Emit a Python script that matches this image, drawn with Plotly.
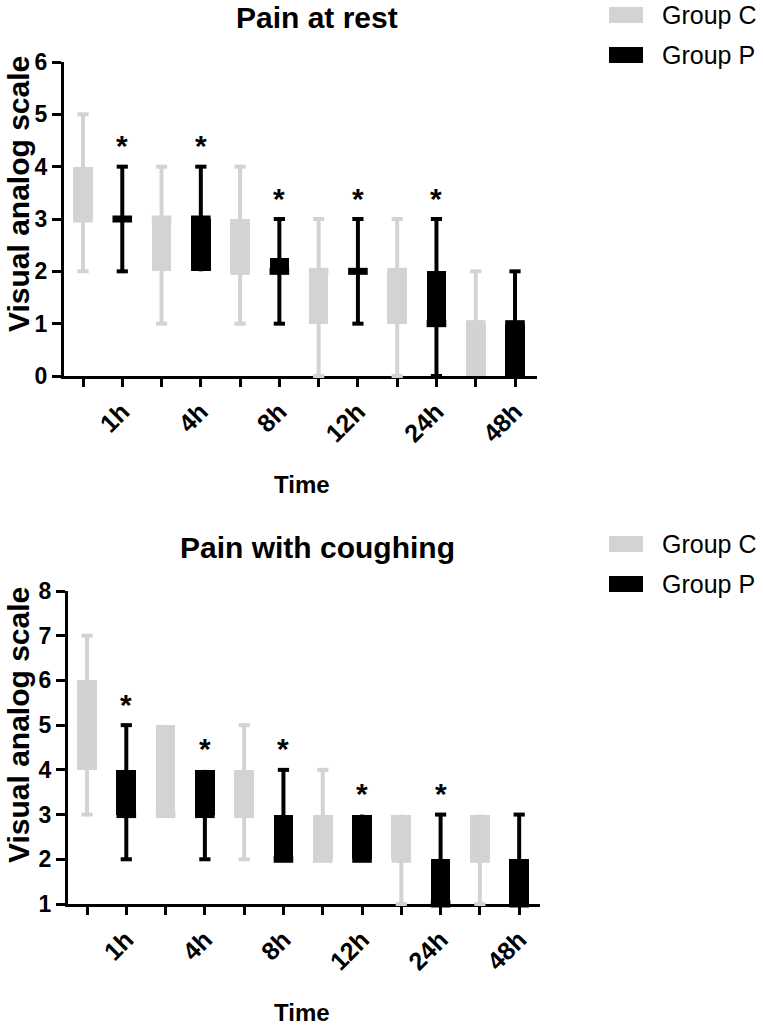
import plotly.graph_objects as go

# ---------------- data ----------------
times = ['1h', '4h', '8h', '12h', '24h', '48h']
groups = ['Group C', 'Group P']

# Pain at rest
rest_C_min = [2, 1, 1, 0, 0, 0]
rest_C_q1 = [3, 2, 2, 1, 1, 0]
rest_C_med = [3, 3, 2, 2, 2, 1]
rest_C_q3 = [4, 3, 3, 2, 2, 1]
rest_C_max = [5, 4, 4, 3, 3, 2]

rest_P_min = [2, 2, 1, 1, 0, 0]
rest_P_q1 = [3, 2, 2, 2, 1, 0]
rest_P_med = [3, 3, 2, 2, 1, 1]
rest_P_q3 = [3, 3, 2.25, 2, 2, 1]
rest_P_max = [4, 4, 3, 3, 3, 2]
rest_sig = [True, True, True, True, True, False]

# Pain with coughing
cough_C_min = [3, 3, 2, 2, 1, 1]
cough_C_q1 = [4, 3, 3, 2, 2, 2]
cough_C_med = [5, 3, 3, 2, 2, 2]
cough_C_q3 = [6, 5, 4, 3, 3, 3]
cough_C_max = [7, 5, 5, 4, 3, 3]

cough_P_min = [2, 2, 2, 2, 1, 1]
cough_P_q1 = [3, 3, 2, 2, 1, 1]
cough_P_med = [3, 3, 2, 2, 1, 1]
cough_P_q3 = [4, 4, 3, 3, 2, 2]
cough_P_max = [5, 4, 4, 3, 3, 3]
cough_sig = [True, True, True, True, True, False]

# ---------------- style ----------------
W, H = 763, 1032
GRAY = 'rgb(211,211,211)'
BLACK = 'rgb(0,0,0)'
FONT = 'Liberation Sans, Arial, sans-serif'


def px(x):
    return x / W


def py(y):
    return 1 - y / H


fig = go.Figure()

n = len(times)
posC = [2 * i for i in range(n)]
posP = [2 * i + 1 for i in range(n)]


def add_group(pos, mn, q1, med, q3, mx, color, xa, ya):
    # box (Q1 -> Q3)
    fig.add_trace(go.Bar(
        x=pos, base=q1, y=[b - a for a, b in zip(q1, q3)], width=0.5,
        marker=dict(color=color, line=dict(width=0)),
        xaxis=xa, yaxis=ya, showlegend=False, hoverinfo='skip'))
    # whisker line (min -> max), no caps
    fig.add_trace(go.Scatter(
        x=pos, y=mn, mode='markers', marker=dict(size=1, opacity=0),
        error_y=dict(type='data', symmetric=False,
                     array=[b - a for a, b in zip(mn, mx)],
                     arrayminus=[0] * len(mn), width=0, thickness=4,
                     color=color),
        xaxis=xa, yaxis=ya, showlegend=False, hoverinfo='skip',
        cliponaxis=False))
    # caps only where whisker extends beyond box
    cap_x, cap_y = [], []
    for p, a, lo, hi, b in zip(pos, mn, q1, q3, mx):
        if b > hi:
            cap_x.append(p); cap_y.append(b)
        if a < lo:
            cap_x.append(p); cap_y.append(a)
    fig.add_trace(go.Scatter(
        x=cap_x, y=cap_y, mode='markers',
        marker=dict(symbol='line-ew', size=8, line=dict(width=4, color=color)),
        xaxis=xa, yaxis=ya, showlegend=False, hoverinfo='skip',
        cliponaxis=False))
    # median
    fig.add_trace(go.Scatter(
        x=pos, y=med, mode='markers',
        marker=dict(symbol='line-ew', size=14,
                    line=dict(width=7, color=color)),
        xaxis=xa, yaxis=ya, showlegend=False, hoverinfo='skip',
        cliponaxis=False))


add_group(posC, rest_C_min, rest_C_q1, rest_C_med, rest_C_q3, rest_C_max, GRAY, 'x', 'y')
add_group(posP, rest_P_min, rest_P_q1, rest_P_med, rest_P_q3, rest_P_max, BLACK, 'x', 'y')
add_group(posC, cough_C_min, cough_C_q1, cough_C_med, cough_C_q3, cough_C_max, GRAY, 'x2', 'y2')
add_group(posP, cough_P_min, cough_P_q1, cough_P_med, cough_P_q3, cough_P_max, BLACK, 'x2', 'y2')

annotations = []
for sig, mx, xr, yr in [(rest_sig, rest_P_max, 'x', 'y'), (cough_sig, cough_P_max, 'x2', 'y2')]:
    for i, s in enumerate(sig):
        if s:
            annotations.append(dict(
                x=posP[i], y=mx[i], xref=xr, yref=yr, text='<b>*</b>',
                showarrow=False, yshift=21,
                font=dict(family=FONT, size=30, color='black')))

ticktext = []
for t in times:
    ticktext += ['', t]

common_x = dict(
    tickmode='array', tickvals=list(range(2 * n)), ticktext=ticktext,
    tickangle=-45, ticks='outside', ticklen=8, tickwidth=3, tickcolor='black',
    showline=True, linewidth=3, linecolor='black', showgrid=False,
    zeroline=False, layer='below traces', automargin=False,
    tickfont=dict(family=FONT, size=25, color='black', weight='bold'))
common_y = dict(
    ticks='outside', ticklen=9, tickwidth=3, tickcolor='black', dtick=1,
    showline=True, linewidth=3, linecolor='black', showgrid=False,
    zeroline=False, layer='below traces', automargin=False,
    tickfont=dict(family=FONT, size=23, color='black', weight='bold'))

fig.update_layout(
    xaxis=dict(domain=[px(64), px(537)], range=[-0.484, 11.56], anchor='y', **common_x),
    yaxis=dict(domain=[py(376), py(62)], range=[0, 6], anchor='x', **common_y),
    xaxis2=dict(domain=[px(68), px(540)], range=[-0.484, 11.53], anchor='y2', **common_x),
    yaxis2=dict(domain=[py(904), py(591)], range=[1, 8], anchor='x2', **common_y),
)

# titles and axis titles
for title, ty, yt, yc in [('Pain at rest', 17, 485, 194), ('Pain with coughing', 547, 1012, 725)]:
    annotations.append(dict(x=px(317), y=py(ty), xref='paper', yref='paper',
                            text=title, showarrow=False, xanchor='center', yanchor='middle',
                            font=dict(family=FONT, size=30, color='black', weight='bold')))
    annotations.append(dict(x=px(302), y=py(yt), xref='paper', yref='paper',
                            text='Time', showarrow=False, xanchor='center', yanchor='middle',
                            font=dict(family=FONT, size=24, color='black', weight='bold')))
    annotations.append(dict(x=px(18), y=py(yc), xref='paper', yref='paper',
                            text='Visual analog scale', showarrow=False, textangle=-90,
                            xanchor='center', yanchor='middle',
                            font=dict(family=FONT, size=30, color='black', weight='bold')))

# legends (manual swatches + text)
shapes = []
for y0 in [15, 544]:
    for k, (g, col) in enumerate(zip(groups, [GRAY, BLACK])):
        yc = y0 + 40 * k
        shapes.append(dict(type='rect', xref='paper', yref='paper',
                           x0=px(609), x1=px(643), y0=py(yc + 8), y1=py(yc - 8),
                           fillcolor=col, line=dict(width=0)))
        annotations.append(dict(x=px(660), y=py(yc), xref='paper', yref='paper',
                                text=g, showarrow=False, xanchor='left', yanchor='middle',
                                font=dict(family=FONT, size=25, color='black')))

fig.update_layout(
    width=W, height=H,
    margin=dict(l=0, r=0, t=0, b=0, pad=0, autoexpand=False),
    paper_bgcolor='white', plot_bgcolor='white',
    showlegend=False, bargap=0, annotations=annotations, shapes=shapes,
)

fig.write_html('out.html', config={'displayModeBar': False},
               post_script="document.body.style.margin='0';document.body.style.padding='0';")
